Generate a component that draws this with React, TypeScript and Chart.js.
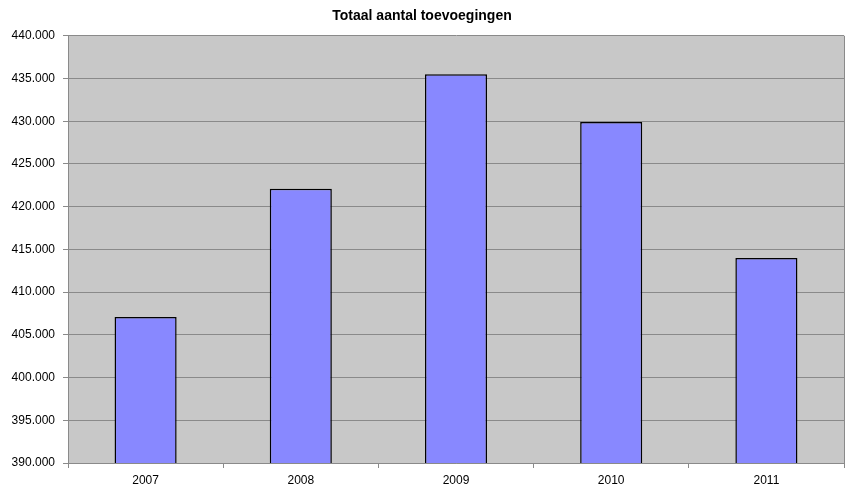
import React, { useEffect, useRef } from "react";
import { Chart, registerables } from "chart.js";

Chart.register(...registerables);

const categories = ["2007", "2008", "2009", "2010", "2011"];
const values = [407100, 422100, 435500, 429900, 414000];
const yMin = 390000;
const yMax = 440000;
const yStep = 5000;
const title = "Totaal aantal toevoegingen";

function fmt(v: number): string {
  const s = Math.round(v).toString();
  return s.replace(/\B(?=(\d{3})+(?!\d))/g, ".");
}

const plotBg = {
  id: "plotBg",
  beforeDraw(chart: any) {
    const { ctx, chartArea } = chart;
    if (!chartArea) return;
    ctx.save();
    ctx.fillStyle = "#c8c8c8";
    ctx.fillRect(chartArea.left, chartArea.top, chartArea.right - chartArea.left, chartArea.bottom - chartArea.top);
    ctx.restore();
  },
  afterDraw(chart: any) {
    const { ctx, chartArea } = chart;
    ctx.save();
    ctx.strokeStyle = "#8a8a8a";
    ctx.lineWidth = 1;
    ctx.beginPath();
    ctx.moveTo(Math.round(chartArea.right) + 0.5, chartArea.top);
    ctx.lineTo(Math.round(chartArea.right) + 0.5, chartArea.bottom);
    ctx.stroke();
    ctx.restore();
  },
};

export default function App() {
  const ref = useRef<HTMLCanvasElement>(null);
  useEffect(() => {
    if (!ref.current) return;
    const chart = new Chart(ref.current, {
      type: "bar",
      data: {
        labels: categories,
        datasets: [
          {
            data: values,
            backgroundColor: "#8888ff",
            borderColor: "#000000",
            borderWidth: 1.5,
            barPercentage: 0.4,
            categoryPercentage: 1,
          },
        ],
      },
      options: {
        animation: false,
        responsive: false,
        maintainAspectRatio: false,
        layout: { padding: { left: 0, right: 5, top: 0, bottom: 0 } },
        plugins: {
          legend: { display: false },
          tooltip: { enabled: false },
          title: {
            display: true,
            text: title,
            color: "#000",
            font: { family: "Liberation Sans, Arial, sans-serif", size: 14, weight: "bold" },
            padding: { top: 8, bottom: 11 },
          },
        },
        scales: {
          x: {
            offset: true,
            grid: {
              display: true,
              offset: true,
              drawOnChartArea: false,
              drawTicks: true,
              tickLength: 5,
              color: "#8a8a8a",
            },
            border: { display: true, color: "#8a8a8a" },
            ticks: {
              color: "#000",
              font: { family: "Liberation Sans, Arial, sans-serif", size: 12 },
              padding: 5,
            },
            afterFit(scale: any) {
              scale.height = 25;
            },
          },
          y: {
            min: yMin,
            max: yMax,
            ticks: {
              stepSize: yStep,
              color: "#000",
              font: { family: "Liberation Sans, Arial, sans-serif", size: 12 },
              padding: 8,
              callback: (v: any) => fmt(Number(v)),
            },
            grid: {
              color: "#8a8a8a",
              drawTicks: true,
              tickLength: 5,
            },
            border: { display: true, color: "#8a8a8a" },
            afterFit(scale: any) {
              scale.width = 68;
            },
          },
        },
      },
      plugins: [plotBg],
    });
    return () => chart.destroy();
  }, []);
  return (
    <div style={{ position: "absolute", left: 0, top: 0, width: 849, height: 488, background: "#fff" }}>
      <canvas ref={ref} width={849} height={488} style={{ width: 849, height: 488 }} />
    </div>
  );
}
